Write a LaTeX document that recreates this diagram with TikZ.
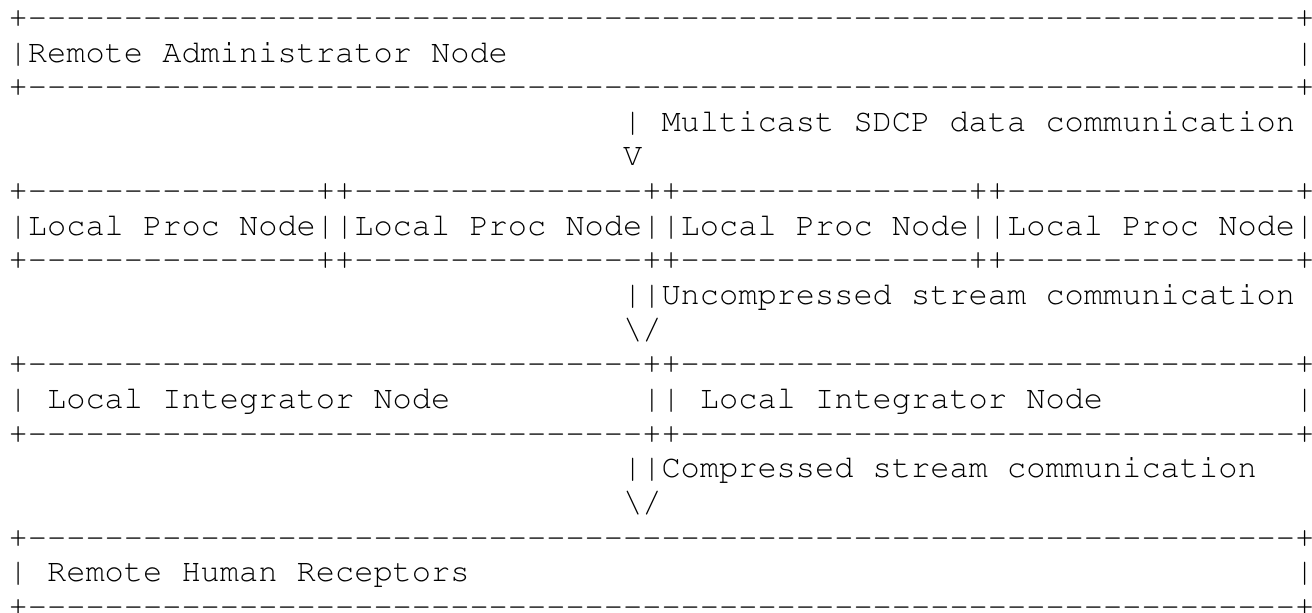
\documentclass[tikz,border=0pt]{standalone}
\usepackage[T1]{fontenc}
\usepackage{courier}
\ExplSyntaxOn
\NewDocumentCommand\asciirep{mm}{\prg_replicate:nn{#1}{#2}}
\ExplSyntaxOff
\newcommand\dsh[1]{\asciirep{#1}{-\kern0pt}}
\begin{document}
\begin{tikzpicture}[x=9.6pt,y=-17.325pt,
  asc/.style={anchor=base west, inner sep=0pt, outer sep=0pt,
    font=\ttfamily\fontsize{16pt}{17pt}\selectfont, text=black}]
\useasboundingbox[fill=white] (0,0) rectangle (656pt,-306pt);
\begin{scope}[shift={(0.4537,0.7893)}]
% Remote Administrator Node box
\node[asc] (r1)  at (0,0)  {+\dsh{66}+};
\node[asc] (r2)  at (0,1)  {|Remote Administrator Node};
\node[asc] (r2e) at (67,1) {|};
\node[asc] (r3)  at (0,2)  {+\dsh{66}+};
% multicast arrow
\node[asc] (r4)  at (32,3) {| Multicast SDCP data communication};
\node[asc] (r5)  at (32,4) {V};
% Local Proc Nodes
\node[asc] (r6)  at (0,5)  {+\dsh{15}++\dsh{15}++\dsh{15}++\dsh{15}+};
\node[asc] (r7)  at (0,6)  {|Local Proc Node||Local Proc Node||Local Proc Node||Local Proc Node|};
\node[asc] (r8)  at (0,7)  {+\dsh{15}++\dsh{15}++\dsh{15}++\dsh{15}+};
% uncompressed arrow
\node[asc] (r9)  at (32,8) {||Uncompressed stream communication};
\node[asc] (r10) at (32,9) {\textbackslash/};
% Local Integrator Nodes
\node[asc] (r11) at (0,10) {+\dsh{32}++\dsh{32}+};
\node[asc] (r12) at (0,11) {| Local Integrator Node};
\node[asc] (r12b) at (33,11) {|| Local Integrator Node};
\node[asc] (r12e) at (67,11) {|};
\node[asc] (r13) at (0,12) {+\dsh{32}++\dsh{32}+};
% compressed arrow
\node[asc] (r14) at (32,13) {||Compressed stream communication};
\node[asc] (r15) at (32,14) {\textbackslash/};
% Remote Human Receptors
\node[asc] (r16) at (0,15) {+\dsh{66}+};
\node[asc] (r17) at (0,16) {| Remote Human Receptors};
\node[asc] (r17e) at (67,16) {|};
\node[asc] (r18) at (0,17) {+\dsh{66}+};
\end{scope}
\end{tikzpicture}
\end{document}
